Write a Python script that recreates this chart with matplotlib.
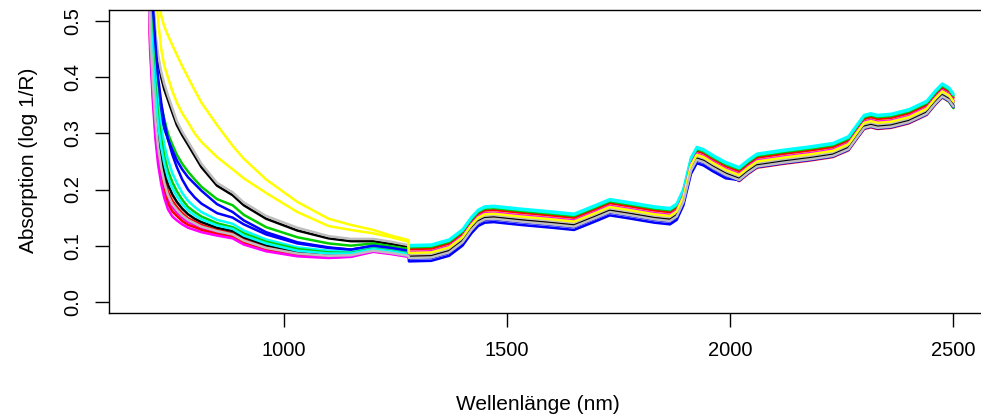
import matplotlib
matplotlib.use("Agg")
import matplotlib.pyplot as plt

plt.rcParams['font.family'] = ['Liberation Sans', 'DejaVu Sans']

# wavelength knots (nm); the detector changes between 1279 and 1280 nm
wl_vis = [690, 700, 706, 712, 718, 725, 732, 740, 750, 760, 772, 785, 800, 815,
          850, 885, 910, 960, 1030, 1100, 1150, 1200, 1240, 1279]
wl_swir = [1280, 1330, 1370, 1400, 1420, 1435, 1450, 1470, 1530, 1600,
           1650, 1700, 1730, 1770, 1830, 1865, 1880, 1895, 1912, 1925,
           1940, 1960, 1990, 2020, 2040, 2060, 2120, 2180, 2230, 2265,
           2285, 2300, 2315, 2330, 2360, 2400, 2440, 2460, 2475, 2490, 2500]
wl = wl_vis + wl_swir

# absorption (log 1/R) of each sample
s01 = [.90, .62, .54, .47, .43, .40, .378, .36, .337, .315, .297, .28, .26, .24, .207, .19, .172, .148, .127, .113, .108, .108, .103, .098,
       .086, .087, .096, .114, .136, .149, .155, .156, .151, .146, .142, .158, .168, .163, .155, .152, .160, .186, .242, .261,
       .257, .247, .234, .225, .238, .249, .256, .262, .268, .280, .302, .318, .321, .318, .320, .328, .343, .362, .374, .367, .356]
s02 = [.838, .493, .403, .333, .284, .246, .219, .196, .180, .169, .158, .149, .143, .137, .128, .122, .111, .098, .087, .083, .083, .092, .088, .083,
       .082, .083, .092, .110, .132, .145, .151, .152, .147, .142, .138, .154, .164, .159, .151, .148, .156, .182, .238, .257,
       .253, .243, .230, .215, .228, .239, .246, .252, .258, .270, .292, .308, .311, .308, .310, .318, .333, .352, .364, .357, .346]
s03 = [.85, .56, .48, .42, .38, .35, .325, .30, .28, .262, .246, .232, .218, .205, .183, .172, .155, .133, .115, .104, .100, .104, .099, .094,
       .090, .091, .100, .118, .140, .153, .159, .160, .155, .150, .146, .162, .172, .167, .159, .156, .164, .190, .246, .265,
       .261, .251, .238, .229, .242, .253, .260, .266, .272, .284, .306, .322, .325, .322, .324, .332, .347, .354, .365, .357, .345]
s04 = [.85, .55, .46, .40, .36, .33, .308, .29, .27, .252, .236, .222, .21, .198, .174, .160, .145, .124, .106, .097, .093, .099, .093, .087,
       .072, .073, .082, .100, .122, .135, .141, .142, .137, .132, .128, .144, .154, .149, .141, .138, .146, .172, .228, .247,
       .243, .233, .220, .217, .230, .241, .248, .254, .260, .272, .294, .310, .313, .310, .312, .320, .335, .354, .366, .359, .348]
s05 = [.905, .569, .479, .409, .354, .312, .280, .253, .229, .212, .194, .180, .169, .160, .146, .139, .127, .111, .097, .091, .089, .097, .093, .088,
       .101, .102, .111, .129, .151, .164, .170, .171, .166, .161, .157, .173, .183, .178, .170, .167, .175, .201, .257, .276,
       .272, .262, .249, .240, .253, .264, .271, .277, .283, .295, .317, .333, .336, .333, .335, .343, .358, .377, .389, .382, .371]
s06 = [.822, .476, .386, .316, .268, .232, .205, .184, .169, .159, .150, .142, .137, .132, .124, .119, .107, .095, .085, .081, .082, .091, .087, .082,
       .088, .089, .098, .116, .138, .151, .157, .158, .153, .148, .144, .160, .170, .165, .157, .154, .162, .188, .244, .263,
       .259, .249, .236, .227, .240, .251, .258, .264, .270, .282, .304, .320, .323, .320, .322, .330, .345, .364, .376, .369, .358]
s07 = [.95, .75, .67, .60, .55, .51, .49, .475, .457, .44, .42, .40, .377, .355, .315, .278, .255, .218, .178, .148, .137, .128, .118, .110,
       .092, .093, .102, .120, .142, .155, .161, .162, .157, .152, .148, .164, .174, .169, .161, .158, .166, .192, .248, .267,
       .263, .253, .240, .231, .244, .255, .262, .268, .274, .286, .308, .324, .327, .324, .326, .334, .349, .368, .380, .373, .362]
s08 = [.90, .63, .55, .48, .44, .41, .388, .368, .345, .322, .303, .286, .266, .246, .212, .195, .177, .153, .132, .117, .112, .112, .107, .101,
       .084, .085, .094, .112, .134, .147, .153, .154, .149, .144, .140, .156, .166, .161, .153, .150, .158, .184, .240, .259,
       .255, .245, .232, .223, .236, .247, .254, .260, .266, .278, .300, .316, .319, .316, .318, .326, .341, .360, .372, .365, .354]
s09 = [.853, .51, .42, .35, .299, .261, .232, .209, .191, .178, .166, .156, .148, .142, .132, .126, .115, .101, .089, .084, .085, .093, .089, .084,
       .080, .081, .090, .108, .130, .143, .149, .150, .145, .140, .136, .152, .162, .157, .149, .146, .154, .180, .236, .255,
       .251, .241, .228, .219, .232, .243, .250, .256, .262, .274, .296, .312, .315, .312, .314, .322, .337, .356, .368, .361, .350]
s10 = [.812, .464, .374, .304, .257, .222, .196, .175, .161, .153, .144, .137, .133, .128, .121, .116, .105, .092, .083, .079, .081, .090, .086, .081,
       .094, .095, .104, .122, .144, .157, .163, .164, .159, .154, .150, .166, .176, .171, .163, .160, .168, .194, .250, .269,
       .265, .255, .242, .233, .246, .257, .264, .270, .276, .288, .310, .326, .329, .326, .328, .336, .351, .370, .382, .375, .364]
s11 = [.883, .544, .454, .384, .330, .290, .259, .234, .213, .197, .182, .169, .160, .152, .140, .133, .122, .107, .094, .088, .087, .095, .091, .086,
       .097, .098, .107, .125, .147, .160, .166, .167, .162, .157, .153, .169, .179, .174, .166, .163, .171, .197, .253, .272,
       .268, .258, .245, .236, .249, .260, .267, .273, .279, .291, .313, .329, .332, .329, .331, .339, .354, .373, .385, .378, .367]
s12 = [.95, .62, .53, .46, .40, .355, .32, .29, .262, .24, .218, .20, .186, .175, .158, .150, .138, .120, .104, .096, .093, .100, .096, .091,
       .077, .078, .087, .105, .127, .140, .146, .147, .142, .137, .133, .149, .159, .154, .146, .143, .151, .177, .233, .252,
       .248, .238, .225, .216, .229, .240, .247, .253, .259, .271, .293, .309, .312, .309, .311, .319, .334, .353, .365, .358, .347]
s13 = [.868, .527, .437, .367, .315, .275, .246, .221, .202, .188, .174, .163, .154, .147, .136, .130, .118, .104, .091, .086, .086, .094, .090, .085,
       .099, .100, .109, .127, .149, .162, .168, .169, .164, .159, .155, .171, .181, .176, .168, .165, .173, .199, .255, .274,
       .270, .260, .247, .238, .251, .262, .269, .275, .281, .293, .315, .331, .334, .331, .333, .341, .356, .375, .387, .380, .369]
s14 = [.80, .45, .36, .29, .245, .21, .185, .165, .152, .145, .138, .132, .128, .124, .118, .113, .102, .090, .081, .078, .080, .089, .085, .080,
       .089, .090, .099, .117, .139, .152, .158, .159, .154, .149, .145, .161, .171, .166, .158, .155, .163, .189, .245, .264,
       .260, .250, .237, .228, .241, .252, .259, .265, .271, .283, .305, .321, .324, .321, .323, .331, .346, .365, .377, .370, .359]
s15 = [.90, .70, .62, .56, .50, .45, .42, .40, .375, .355, .336, .32, .30, .285, .258, .236, .220, .194, .160, .135, .128, .122, .115, .107,
       .087, .088, .097, .115, .137, .150, .156, .157, .152, .147, .143, .159, .169, .164, .156, .153, .161, .187, .243, .262,
       .258, .248, .235, .226, .239, .250, .257, .263, .269, .281, .303, .319, .322, .319, .321, .329, .344, .363, .375, .368, .357]
s16 = [.83, .484, .394, .324, .276, .239, .212, .19, .174, .164, .154, .146, .140, .134, .126, .120, .109, .096, .086, .082, .083, .091, .087, .082,
       .078, .079, .088, .106, .128, .141, .147, .148, .143, .138, .134, .150, .160, .155, .147, .144, .152, .178, .234, .253,
       .249, .239, .226, .217, .230, .241, .248, .254, .260, .272, .294, .310, .313, .310, .312, .320, .335, .354, .366, .359, .348]

spectra = [s01, s02, s03, s04, s05, s06, s07, s08,
           s09, s10, s11, s12, s13, s14, s15, s16]

# R's classic palette, recycled over the samples
palette = ['black', '#FF0000', '#00CD00', '#0000FF',
           '#00FFFF', '#FF00FF', '#FFFF00', '#BEBEBE']

x_ticks = [1000, 1500, 2000, 2500]
y_ticks = [0.0, 0.1, 0.2, 0.3, 0.4, 0.5]
y_labels = ['0.0', '0.1', '0.2', '0.3', '0.4', '0.5']

W, H = 981, 419
fig = plt.figure(figsize=(W / 100, H / 100), dpi=100)
ax = fig.add_axes([109 / W, 106 / H, 877 / W, 303 / H])

for i, spec in enumerate(spectra):
    ax.plot(wl, spec, color=palette[i % len(palette)], lw=1.8,
            solid_joinstyle='round', solid_capstyle='round')

ax.set_xlim(608, 2573)
ax.set_ylim(-0.02, 0.52)
ax.set_xticks(x_ticks)
ax.set_xticklabels([str(t) for t in x_ticks])
ax.set_yticks(y_ticks)
ax.set_yticklabels(y_labels, rotation=90, va='center')

for sp in ax.spines.values():
    sp.set_linewidth(1.0)
ax.tick_params(length=10, width=1.0, labelsize=14.5, colors='black')
ax.tick_params(axis='x', pad=10)
ax.tick_params(axis='y', pad=9)

fig.text(538 / W, 1 - 410 / H, 'Wellenlänge (nm)', fontsize=15,
         ha='center', va='baseline')
fig.text(29 / W, 1 - 160 / H, 'Absorption (log 1/R)', fontsize=15,
         rotation=90, ha='center', va='center')

fig.savefig('out.png', dpi=100)
